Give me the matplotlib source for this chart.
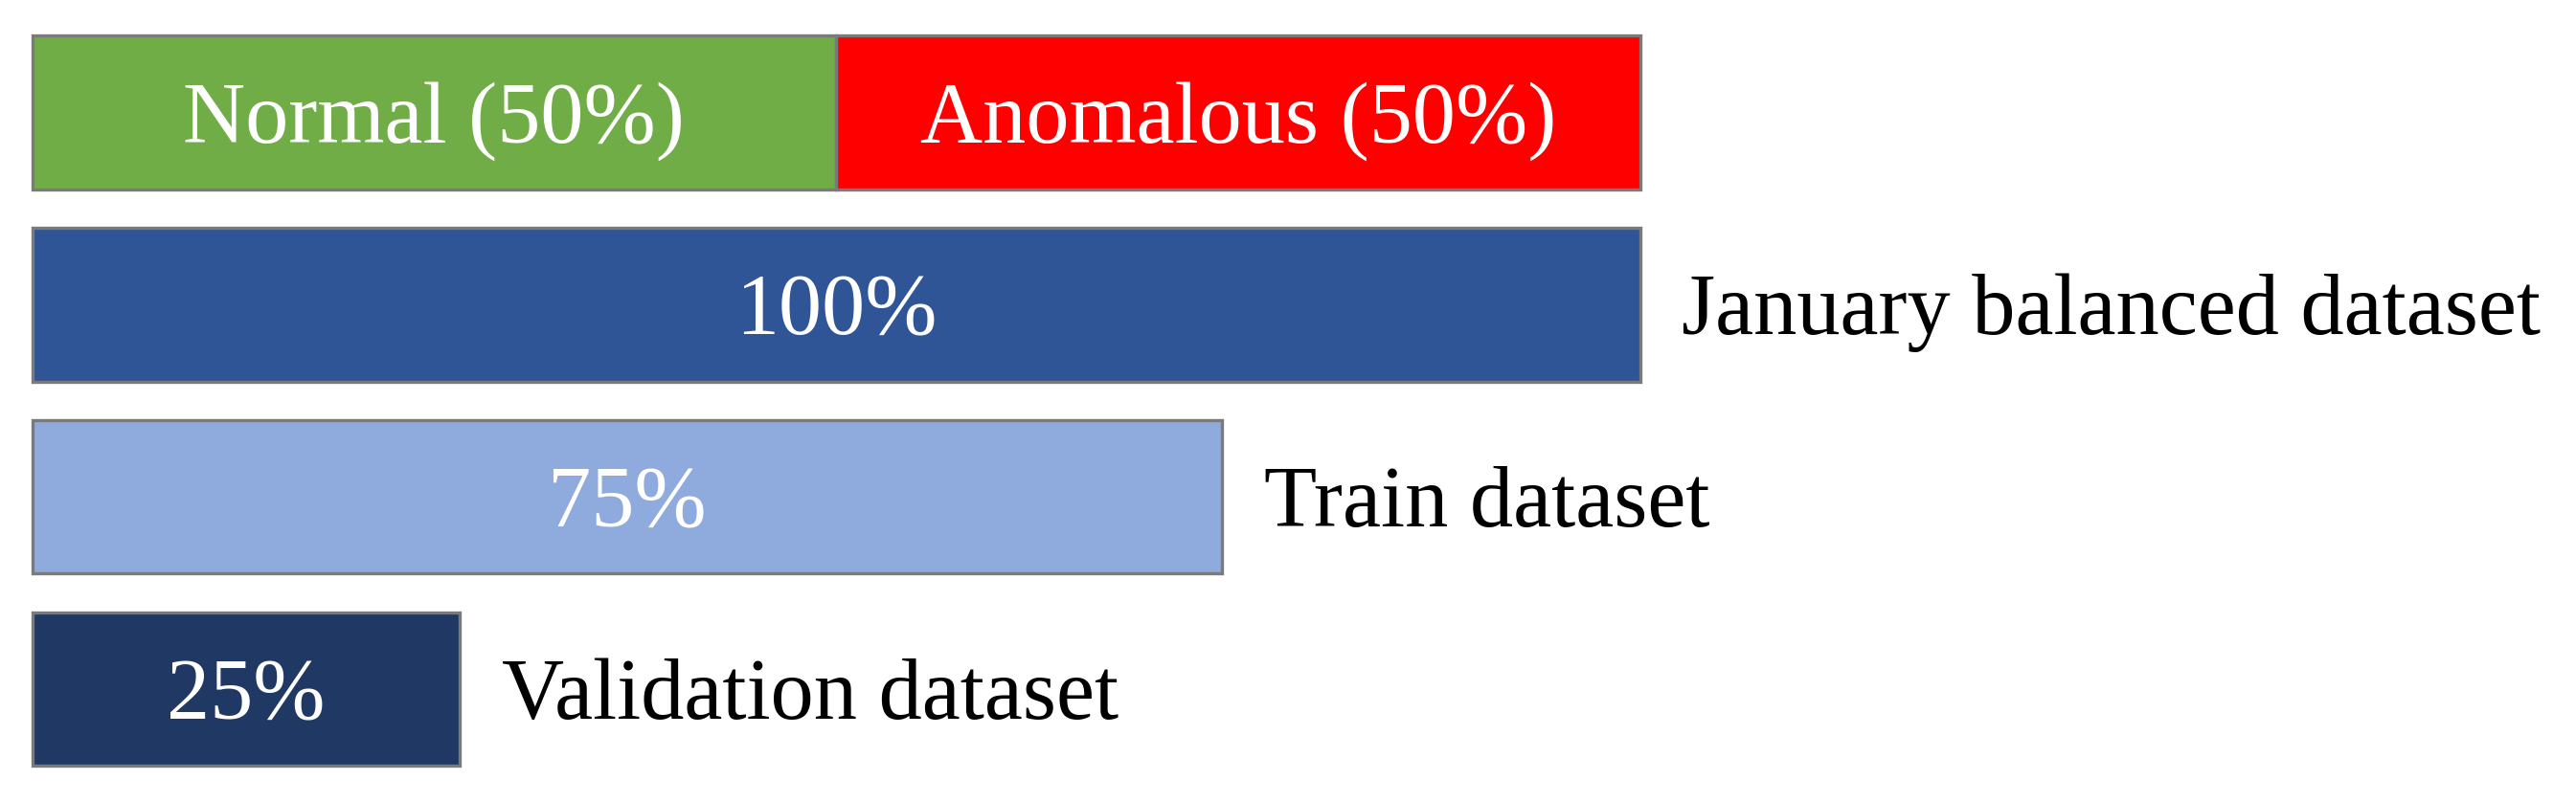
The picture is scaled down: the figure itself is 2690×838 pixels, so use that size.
import matplotlib
matplotlib.use("Agg")
import matplotlib.pyplot as plt

# top row: class split of the balanced dataset
split_labels = ["Normal (50%)", "Anomalous (50%)"]
split_values = [50, 50]
split_colors = ["#70AD47", "#FF0000"]

# dataset rows (bar length, label as printed)
set_names = ["January balanced dataset", "Train dataset", "Validation dataset"]
set_lengths = [100, 74, 26.6]
set_labels = ["100%", "75%", "25%"]
set_colors = ["#2F5597", "#8FAADC", "#203864"]

edge = "#7A7A7A"
font = ["Liberation Serif", "DejaVu Serif"]
fs = 65

fig = plt.figure(figsize=(26.9, 8.38), dpi=100)
ax = fig.add_axes([0, 0, 1, 1])
ax.set_xlim(-2.0, 158.2)
ax.set_ylim(3.588, -0.585)
ax.axis("off")

h = 0.80
dy = 0.155  # baseline shift so the caps sit centred in the bar

# row 0: stacked split
left = 0
for lab, val, col in zip(split_labels, split_values, split_colors):
    ax.barh(0, val, left=left, height=h, color=col, edgecolor=edge, linewidth=2.4)
    ax.text(left + val / 2, 0 + dy, lab, ha="center", va="baseline",
            color="white", fontsize=fs, family=font)
    left += val

# rows 1..3: dataset bars
for i, (name, length, lab, col) in enumerate(zip(set_names, set_lengths, set_labels, set_colors)):
    y = i + 1
    ax.barh(y, length, height=h, color=col, edgecolor=edge, linewidth=2.4)
    ax.text(length / 2, y + dy, lab, ha="center", va="baseline",
            color="white", fontsize=fs, family=font)
    ax.text(length + 2.6, y + dy, name, ha="left", va="baseline",
            color="black", fontsize=fs, family=font)

fig.savefig("out.png", dpi=100, facecolor="white")
